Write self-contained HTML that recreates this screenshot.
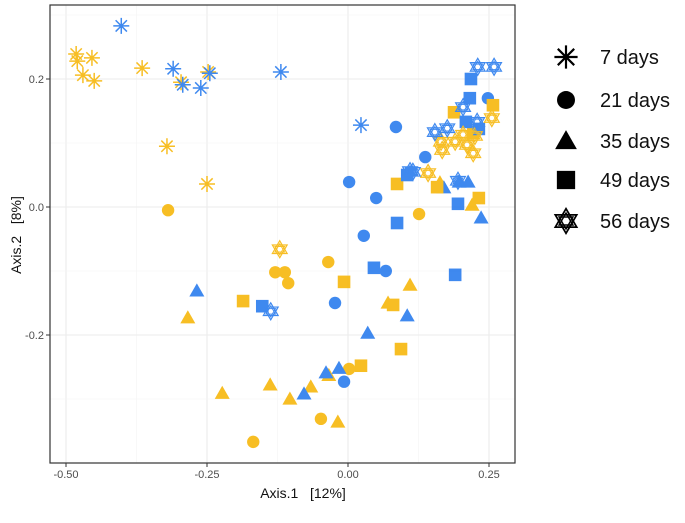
<!DOCTYPE html>
<html><head><meta charset="utf-8"><style>
body{margin:0;background:#fff;}
svg text{font-family:"Liberation Sans",sans-serif;white-space:pre;}
</style></head><body>
<svg id="c" width="685" height="518" xmlns="http://www.w3.org/2000/svg"></svg>
<script>
const xTicks=[-0.5,-0.25,0,0.25];
const xTickLabels=["-0.50","-0.25","0.00","0.25"];
const yTicks=[-0.2,0,0.2];
const yTickLabels=["-0.2","0.0","0.2"];
const groups=["7 days","21 days","35 days","49 days","56 days"];
const shapes=["star","circle","triangle","square","david"];
// blue series
const b7x=[-0.402,-0.310,-0.293,-0.261,-0.245,-0.119,0.023];
const b7y=[0.283,0.216,0.191,0.186,0.209,0.211,0.128];
const b21x=[0.085,0.137,0.050,0.248,0.002,0.028,0.067,-0.023,-0.007];
const b21y=[0.125,0.078,0.014,0.170,0.039,-0.045,-0.100,-0.150,-0.273];
const b35x=[-0.268,0.105,0.035,-0.039,-0.016,-0.078,0.170,0.197,0.213,0.236];
const b35y=[-0.131,-0.170,-0.197,-0.259,-0.252,-0.292,0.030,0.039,0.039,-0.017];
const b49x=[0.046,-0.152,0.218,0.216,0.209,0.232,0.105,0.195,0.087,0.190];
const b49y=[-0.095,-0.155,0.200,0.170,0.133,0.122,0.050,0.005,-0.025,-0.106];
const b56x=[0.230,0.259,0.204,0.154,0.176,0.110,0.195,0.229,-0.137,0.115];
const b56y=[0.219,0.219,0.156,0.117,0.123,0.056,0.041,0.133,-0.163,0.055];
// yellow series
const y7x=[-0.482,-0.480,-0.454,-0.470,-0.450,-0.365,-0.296,-0.248,-0.321,-0.250];
const y7y=[0.239,0.228,0.233,0.206,0.197,0.217,0.195,0.211,0.095,0.036];
const y21x=[-0.035,-0.129,-0.112,-0.106,0.002,-0.048,-0.168,-0.319,0.126];
const y21y=[-0.086,-0.102,-0.102,-0.119,-0.253,-0.331,-0.367,-0.005,-0.011];
const y35x=[-0.284,-0.223,-0.138,-0.103,-0.066,-0.034,-0.018,0.071,0.110,0.220,0.163];
const y35y=[-0.173,-0.291,-0.278,-0.300,-0.281,-0.263,-0.336,-0.150,-0.122,0.003,0.038];
const y49x=[-0.186,-0.007,0.080,0.023,0.094,0.188,0.087,0.232,0.158,0.257,0.222];
const y49y=[-0.147,-0.117,-0.153,-0.248,-0.222,0.148,0.036,0.014,0.031,0.159,0.116];
const y56x=[-0.121,0.142,0.167,0.190,0.211,0.222,0.255,0.225,0.204,0.165];
const y56y=[-0.066,0.053,0.089,0.102,0.097,0.084,0.139,0.111,0.113,0.102];

const NS="http://www.w3.org/2000/svg";
const svg=document.getElementById('c');
function mk(t,a,p){const e=document.createElementNS(NS,t);for(const k in a)e.setAttribute(k,a[k]);(p||svg).appendChild(e);return e;}
const L=50,R=515,T=5,B=463;
const sx=v=>348+v*564;
const sy=v=>207-v*640;

// grid
const grid=mk('g',{});


for(let v=-0.625;v<=0.3;v+=0.125){const x=sx(v);if(x<L||x>R)continue;const major=xTicks.some(t=>Math.abs(t-v)<1e-6);mk('line',{x1:x,x2:x,y1:T,y2:B,stroke:major?'#ebebeb':'#f3f3f3','stroke-width':major?1.1:0.6},grid);}
for(let v=-0.4;v<=0.35;v+=0.1){const y=sy(v);if(y<T||y>B)continue;const major=yTicks.some(t=>Math.abs(t-v)<1e-6);mk('line',{x1:L,x2:R,y1:y,y2:y,stroke:major?'#ebebeb':'#f3f3f3','stroke-width':major?1.1:0.6},grid);}

function tri2(g,x,y,h,col,w){
  mk('polygon',{points:`${x},${y-h} ${x+h*0.87},${y+h*0.5} ${x-h*0.87},${y+h*0.5}`,stroke:col,'stroke-width':w,fill:'none'},g);
  mk('polygon',{points:`${x},${y+h} ${x+h*0.87},${y-h*0.5} ${x-h*0.87},${y-h*0.5}`,stroke:col,'stroke-width':w,fill:'none'},g);
}
function shape(kind,x,y,col,s,p){
  const g=mk('g',{},p);
  if(kind==='circle'){mk('circle',{cx:x,cy:y,r:6.2*s,fill:col},g);}
  else if(kind==='square'){const h=6.3*s;mk('rect',{x:x-h,y:y-h,width:2*h,height:2*h,fill:col},g);}
  else if(kind==='triangle'){const h=7.5*s;mk('polygon',{points:`${x},${y-h} ${x+h},${y+h*0.75} ${x-h},${y+h*0.75}`,fill:col},g);}
  else if(kind==='star'){const h=8*s,d=h*0.707;const pth=`M${x-h},${y}H${x+h}M${x},${y-h}V${y+h}M${x-d},${y-d}L${x+d},${y+d}M${x-d},${y+d}L${x+d},${y-d}`;mk('path',{d:pth,stroke:col,'stroke-width':1.5*s,fill:'none'},g);}
  else {tri2(g,x,y,8.5*s,col,1.2*s);tri2(g,x,y,5.5*s,col,1.0*s);}
  return g;
}
const BLUE='#2f7fee',YEL='#f7b912';
const series=[
 [y7x,y7y,YEL,'star'],[b7x,b7y,BLUE,'star'],
 [y21x,y21y,YEL,'circle'],[b21x,b21y,BLUE,'circle'],
 [y35x,y35y,YEL,'triangle'],[b35x,b35y,BLUE,'triangle'],
 [y49x,y49y,YEL,'square'],[b49x,b49y,BLUE,'square'],
 [y56x,y56y,YEL,'david'],[b56x,b56y,BLUE,'david']];
const pts=mk('g',{opacity:0.92});


series.forEach(s=>{s[0].forEach((v,i)=>{const g=shape(s[3],sx(v),sy(s[1][i]),s[2],1,pts);

});});

// frame
const fr=mk('rect',{x:L,y:T,width:R-L,height:B-T,fill:'none',stroke:'#333','stroke-width':1.2});


// ticks
xTicks.forEach((v,i)=>{const x=sx(v);mk('line',{x1:x,x2:x,y1:B,y2:B+4,stroke:'#333'});
const t=mk('text',{x:x,y:B+15,'font-size':11,'text-anchor':'middle',fill:'#4d4d4d'});t.textContent=xTickLabels[i];

});
yTicks.forEach((v,i)=>{const y=sy(v);mk('line',{x1:L-4,x2:L,y1:y,y2:y,stroke:'#333'});
const t=mk('text',{x:L-6,y:y+4,'font-size':11,'text-anchor':'end',fill:'#4d4d4d'});t.textContent=yTickLabels[i];

});
const xt=mk('text',{x:303,y:498,'font-size':14,'text-anchor':'middle',fill:'#111'});xt.textContent='Axis.1   [12%]';


const yt=mk('text',{x:0,y:0,'font-size':14,'text-anchor':'middle',fill:'#111',transform:'translate(21,235) rotate(-90)'});yt.textContent='Axis.2   [8%]';


// legend
const ly=[57,100,141,180,221];
groups.forEach((g,i)=>{const e=mk('g',{});


shape(shapes[i],566,ly[i],'#000',1.45,e);
const t=mk('text',{x:600,y:ly[i]+7,'font-size':20,fill:'#111'},e);t.textContent=g;});
</script>
</body></html>
